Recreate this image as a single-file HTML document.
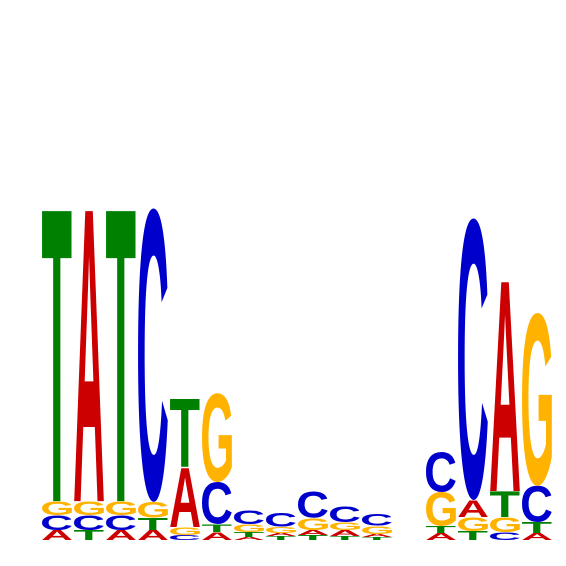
<!DOCTYPE html>
<html><head><meta charset="utf-8"><style>body{margin:0;background:#fff}svg{display:block}</style></head>
<body>
<svg id="logo" width="566" height="566"></svg>
<script>
// Letter heights in bits, bottom-to-top order per column
const positions = [1,2,3,4,5,6,7,8,9,10,11,12,13,14,15,16];
const letters = [
 ["A","C","G","T"],["T","C","G","A"],["A","C","G","T"],["A","T","G","C"],
 ["C","G","A","T"],["A","T","C","G"],["A","T","G","C"],["T","A","G","C"],
 ["T","A","G","C"],["T","A","G","C"],["T","A","G","C"],[],
 ["A","T","G","C"],["T","G","A","C"],["C","G","T","A"],["A","T","C","G"]];
const heights = [
 [0.059,0.088,0.082,1.735],[0.059,0.088,0.082,1.735],[0.059,0.088,0.082,1.735],[0.059,0.071,0.094,1.73],
 [0.029,0.047,0.353,0.406],[0.047,0.047,0.247,0.524],[0.018,0.029,0.047,0.082],[0.024,0.018,0.035,0.082],
 [0.029,0.029,0.071,0.153],[0.024,0.035,0.047,0.094],[0.018,0.018,0.047,0.071],[],
 [0.041,0.041,0.20,0.235],[0.053,0.082,0.10,1.66],[0.047,0.088,0.153,1.25],[0.041,0.065,0.212,1.02]];
const colors = {A:"#cc0000",C:"#0000cc",G:"#ffb300",T:"#008000"};
const svg = document.getElementById("logo");
const NS = "http://www.w3.org/2000/svg";
const x0 = 42, colW = 32.0, letterW = 30, baseY = 540, pxPerBit = 170;
function xPos(i){ return x0 + i*colW; }
function yPos(b){ return baseY - b*pxPerBit; }
const ctx = document.createElement("canvas").getContext("2d");
ctx.font = "bold 100px 'Liberation Sans', sans-serif";
const ink = {};
["A","C","G","T"].forEach(L=>{
  const m = ctx.measureText(L);
  ink[L] = {l:-m.actualBoundingBoxLeft, r:m.actualBoundingBoxRight,
            a:m.actualBoundingBoxAscent, d:m.actualBoundingBoxDescent};
});
positions.forEach((p,i)=>{
  let cum = 0;
  const g = document.createElementNS(NS,"g");
  
  
  svg.appendChild(g);
  letters[i].forEach((L,j)=>{
    const h = heights[i][j];
    const top = yPos(cum + h), bot = yPos(cum);
    cum += h;
    const t = document.createElementNS(NS,"text");
    
    
    t.setAttribute("font-family","Liberation Sans, sans-serif");
    t.setAttribute("font-weight","bold");
    t.setAttribute("font-size","100");
    t.setAttribute("fill",colors[L]);
    t.textContent = L;
    g.appendChild(t);
    const k = ink[L];
    const w = (k.r - k.l) || 70, hh = (k.a + k.d) || 72;
    const sx = letterW / w, sy = (bot-top) / hh;
    t.setAttribute("transform",`translate(${xPos(i)},${bot}) scale(${sx},${sy}) translate(${-k.l},${-k.d})`);
  });
});
</script>
</body></html>
